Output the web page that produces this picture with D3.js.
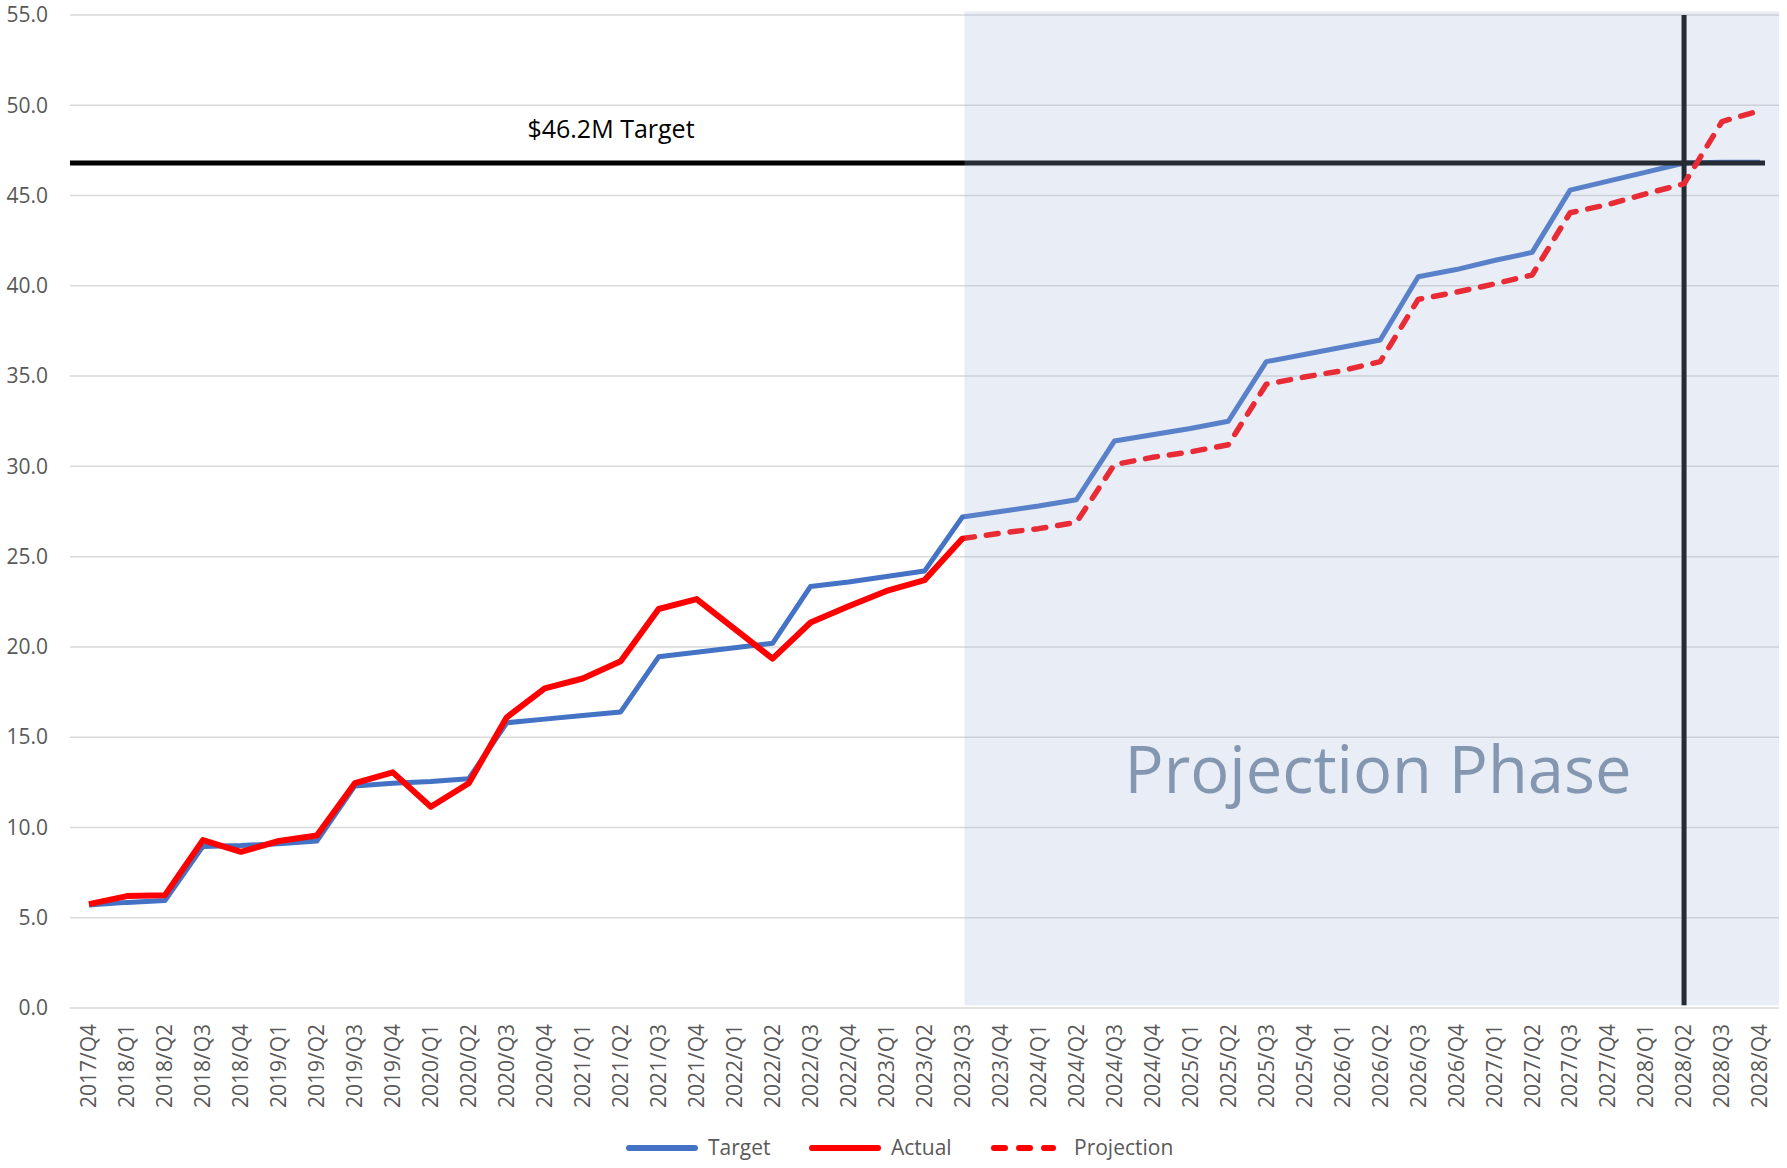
<!DOCTYPE html>
<html>
<head>
<meta charset="utf-8">
<script src="https://cdn.jsdelivr.net/npm/d3@7"></script>
<style>
  body { margin: 0; background: #fff; }
  svg { display: block; font-family: "Open Sans", sans-serif; }
</style>
</head>
<body>
<div id="chart"></div>
<script>
// quarters on the x axis
const quarters = [
    "2017/Q4",
    "2018/Q1", "2018/Q2", "2018/Q3", "2018/Q4",
    "2019/Q1", "2019/Q2", "2019/Q3", "2019/Q4",
    "2020/Q1", "2020/Q2", "2020/Q3", "2020/Q4",
    "2021/Q1", "2021/Q2", "2021/Q3", "2021/Q4",
    "2022/Q1", "2022/Q2", "2022/Q3", "2022/Q4",
    "2023/Q1", "2023/Q2", "2023/Q3", "2023/Q4",
    "2024/Q1", "2024/Q2", "2024/Q3", "2024/Q4",
    "2025/Q1", "2025/Q2", "2025/Q3", "2025/Q4",
    "2026/Q1", "2026/Q2", "2026/Q3", "2026/Q4",
    "2027/Q1", "2027/Q2", "2027/Q3", "2027/Q4",
    "2028/Q1", "2028/Q2", "2028/Q3", "2028/Q4"
];

// Target, one value per quarter
const target = [5.7, 5.85, 5.95, 8.95, 9.0, 9.1, 9.25, 12.3, 12.45, 12.55, 12.7,
    15.8, 16.0, 16.2, 16.4, 19.45, 19.7, 19.95, 20.2, 23.35, 23.6, 23.9, 24.2,
    27.2, 27.5, 27.8, 28.15, 31.4, 31.75, 32.1, 32.5, 35.8, 36.2, 36.6, 37.0,
    40.5, 40.9, 41.4, 41.85, 45.3, 45.8, 46.3, 46.8, 46.85, 46.85];

// Actual, 2017/Q4 .. 2023/Q3
const actual = [5.75, 6.2, 6.25, 9.3, 8.65, 9.25, 9.55, 12.45, 13.05, 11.15, 12.45,
    16.1, 17.7, 18.25, 19.2, 22.1, 22.65, 21.0, 19.35, 21.35, 22.25, 23.1, 23.7, 26.0];

// Projection, 2023/Q3 .. 2028/Q4
const projectionStart = "2023/Q3";
const projection = [26.0, 26.3, 26.55, 26.9, 30.1, 30.5, 30.8, 31.2, 34.55, 34.95,
    35.3, 35.8, 39.25, 39.65, 40.1, 40.6, 44.05, 44.5, 45.1, 45.65, 49.1, 49.7];

const yTicks = [0, 5, 10, 15, 20, 25, 30, 35, 40, 45, 50, 55];
const targetLevel = 46.8;
const targetLabel = "$46.2M Target";
const goalQuarter = "2028/Q2";
const phaseLabel = "Projection Phase";

const width = 1787, height = 1168;
const plot = {left: 70, right: 1779, top: 15, bottom: 1008};

const svg = d3.select("#chart")
    .append("svg")
    .attr("width", width)
    .attr("height", height);

const x = d3.scaleBand()
    .domain(quarters)
    .range([plot.left, plot.right]);

const y = d3.scaleLinear()
    .domain([0, 55])
    .range([plot.bottom, plot.top]);

const cx = q => x(q) + x.bandwidth() / 2;

// Gridlines
svg.append("g")
    .selectAll("line")
    .data(yTicks)
    .join("line")
    .attr("x1", plot.left)
    .attr("x2", plot.right)
    .attr("y1", d => y(d))
    .attr("y2", d => y(d))
    .attr("stroke", "#d9d9d9")
    .attr("stroke-width", 1.5);

// Y axis labels
const yAxis = svg.append("g")
    .attr("transform", `translate(${plot.left - 22},0)`)
    .call(d3.axisLeft(y).tickValues(yTicks).tickFormat(d3.format(".1f")).tickSize(0));
yAxis.select(".domain").remove();
yAxis.selectAll("text")
    .attr("x", 0)
    .attr("font-size", 21)
    .attr("font-family", "Open Sans, sans-serif")
    .attr("fill", "#595959");

// X axis labels (rotated)
const xAxis = svg.append("g")
    .attr("transform", `translate(0,${plot.bottom + 16})`)
    .call(d3.axisBottom(x).tickSize(0));
xAxis.select(".domain").remove();
xAxis.selectAll("text")
    .attr("font-size", 21)
    .attr("font-family", "Open Sans, sans-serif")
    .attr("fill", "#595959")
    .attr("text-anchor", "end")
    .attr("transform", "rotate(-90)")
    .attr("x", 0)
    .attr("y", 0)
    .attr("dy", "0.35em");

const line = d3.line()
    .x(d => cx(d.q))
    .y(d => y(d.v));

// Target line
svg.append("path")
    .datum(target.map((v, i) => ({q: quarters[i], v})))
    .attr("fill", "none")
    .attr("stroke", "#4472c4")
    .attr("stroke-width", 5)
    .attr("stroke-linejoin", "round")
    .attr("d", line);

// $46.2M horizontal target line
svg.append("line")
    .attr("x1", plot.left)
    .attr("x2", 1765)
    .attr("y1", y(targetLevel))
    .attr("y2", y(targetLevel))
    .attr("stroke", "#000")
    .attr("stroke-width", 5);

// vertical marker at the quarter the target is hit
svg.append("line")
    .attr("x1", cx(goalQuarter))
    .attr("x2", cx(goalQuarter))
    .attr("y1", y(55))
    .attr("y2", y(0.15))
    .attr("stroke", "#000")
    .attr("stroke-width", 5);

// Actual line
svg.append("path")
    .datum(actual.map((v, i) => ({q: quarters[i], v})))
    .attr("fill", "none")
    .attr("stroke", "#ff0000")
    .attr("stroke-width", 6)
    .attr("stroke-linejoin", "round")
    .attr("d", line);

// Projection line
const p0 = quarters.indexOf(projectionStart);
svg.append("path")
    .datum(projection.map((v, i) => ({q: quarters[p0 + i], v})))
    .attr("fill", "none")
    .attr("stroke", "#ff0000")
    .attr("stroke-width", 5.5)
    .attr("stroke-dasharray", "12,12")
    .attr("stroke-linecap", "round")
    .attr("stroke-linejoin", "round")
    .attr("d", line);

// Projection phase shading (translucent, drawn over the lines)
svg.append("rect")
    .attr("x", cx(projectionStart) + 2)
    .attr("y", y(55.2))
    .attr("width", plot.right - cx(projectionStart) - 2)
    .attr("height", y(0.15) - y(55.2))
    .attr("fill", "rgb(160,178,218)")
    .attr("opacity", 0.24);

svg.append("text")
    .attr("x", 1378)
    .attr("y", 793)
    .attr("text-anchor", "middle")
    .attr("font-size", 65)
    .attr("fill", "#8497b0")
    .text(phaseLabel);

svg.append("text")
    .attr("x", 611)
    .attr("y", 138)
    .attr("text-anchor", "middle")
    .attr("font-size", 25)
    .attr("fill", "#000")
    .text(targetLabel);

// Legend
const legend = [
    {name: "Target", color: "#4472c4", dash: null, x: 626},
    {name: "Actual", color: "#ff0000", dash: null, x: 809},
    {name: "Projection", color: "#ff0000", dash: "11,14", x: 991}
];
const lg = svg.append("g").selectAll("g")
    .data(legend)
    .join("g")
    .attr("transform", d => `translate(${d.x},1148)`);
lg.append("line")
    .attr("x1", 3)
    .attr("x2", d => d.dash ? 62 : 69)
    .attr("stroke", d => d.color)
    .attr("stroke-width", 6)
    .attr("stroke-linecap", "round")
    .attr("stroke-dasharray", d => d.dash);
lg.append("text")
    .attr("x", d => d.dash ? 83 : 82)
    .attr("y", 7)
    .attr("font-size", 21)
    .attr("fill", "#595959")
    .text(d => d.name);
</script>
</body>
</html>
